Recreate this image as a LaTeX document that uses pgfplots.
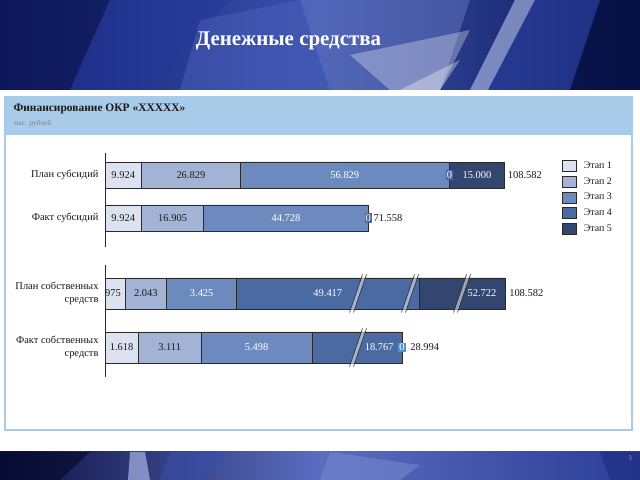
\documentclass[border=0pt]{standalone}
\usepackage{pgfplots}
\pgfplotsset{compat=1.18}
\usepackage{pgfplotstable}
\usepackage{fontspec}
\setmainfont{Liberation Serif}

\definecolor{s1}{HTML}{DCE2F0}
\definecolor{s2}{HTML}{A3B3D5}
\definecolor{s3}{HTML}{6D8ABF}
\definecolor{s4}{HTML}{4B6AA2}
\definecolor{s5}{HTML}{33466F}
\definecolor{hl}{HTML}{4F94D4}
\definecolor{edge}{HTML}{2A2A2A}
\definecolor{panel}{HTML}{A8CBEA}
\definecolor{txt}{HTML}{1A1A1A}
% background tones
\definecolor{bgA}{HTML}{101E6E}
\definecolor{bgB}{HTML}{3A52AE}
\definecolor{bgC}{HTML}{0C1656}
\definecolor{bgD}{HTML}{0A1248}
\definecolor{bgE}{HTML}{24379A}
\definecolor{bgF}{HTML}{4A60BA}
\definecolor{bgG}{HTML}{6F80C6}
\definecolor{bgH}{HTML}{B8C4EC}
\definecolor{bgI}{HTML}{2A3F9E}
\definecolor{bgJ}{HTML}{060E3E}
\definecolor{ftA}{HTML}{0B1040}
\definecolor{ftB}{HTML}{5A6DC0}
\definecolor{ftC}{HTML}{2B3D95}
\definecolor{ftD}{HTML}{04082A}
\definecolor{ftE}{HTML}{A7B3E3}
\definecolor{ftF}{HTML}{3A4FAE}
\definecolor{ftG}{HTML}{7D8DD0}
\definecolor{ftH}{HTML}{1E2C80}
\definecolor{pgnum}{HTML}{8C9BC8}

% upper chart: real values (lengths are to scale)
% y = row position, len = drawn length, lab = label, off = label shift (px),
% fo = label box shown, hl = highlight box colour (0/100), to = label shown
% (a zero segment is stored as 0.0001 so that its "0" label is still drawn)
\pgfplotstableread{
y   len    lab     off fo hl to
175 9.924  9.924   0   0  0  1
218 9.924  9.924   0   0  0  1
}\upa
\pgfplotstableread{
y   len    lab     off fo hl to
175 26.829 26.829  0   0  0  1
218 16.905 16.905  0   0  0  1
}\upb
\pgfplotstableread{
y   len    lab     off fo hl to
175 56.829 56.829  0   0  0  1
218 44.728 44.728  0   0  0  1
}\upc
\pgfplotstableread{
y   len    lab     off fo hl to
175 0.0001 0       0   1  0  1
218 0.0001 0       0   1  0  1
}\upd
\pgfplotstableread{
y   len    lab     off fo hl to
175 15.000 15.000  0   0  0  1
218 0      0       0   0  0  0
}\upe
\pgfplotstableread{
y   len    lab     off
175 0.0001 108.582 3
218 0.0001 71.558  5
}\uptot

% lower chart: broken bars, len = drawn length as seen, lab = true value
\pgfplotstableread{
y     len    lab     off fo hl to
293.5 5.43   975     -2  0  0  1
347.5 9.05   1.618   0   0  0  1
}\loa
\pgfplotstableread{
y     len    lab     off fo hl to
293.5 11.33  2.043   0   0  0  1
347.5 17.04  3.111   0   0  0  1
}\lob
\pgfplotstableread{
y     len    lab     off fo hl to
293.5 19.02  3.425   0   0  0  1
347.5 30.24  5.498   0   0  0  1
}\loc
\pgfplotstableread{
y     len    lab     off fo hl to
293.5 49.54  49.417  0   0  0  1
347.5 24.38  18.767  22  0  0  1
}\lod
\pgfplotstableread{
y     len    lab     off fo hl  to
293.5 23.37  52.722  20  0  0   1
347.5 0.0001 0       0   1  100 1
}\loe
\pgfplotstableread{
y     len    lab     off
293.5 0.0001 108.582 4
347.5 0.0001 28.994  8
}\lotot

\pgfplotsset{
  chartbase/.style={
    xbar stacked, scale only axis,
    x=3.68bp, y=1bp, y dir=reverse,
    xmin=0, xmax=140, clip=false,
    axis x line=none, axis y line*=left,
    y axis line style={draw=edge, line width=0.6bp},
    major tick length=0, ytick style={draw=none},
    yticklabel style={font=\fontsize{10.5}{13.5}\selectfont, align=right,
      text=txt, xshift=-3bp},
    every axis plot/.append style={draw=edge, line width=0.6bp},
  },
  % segment labels sit in the middle of their segment
  seg/.style 2 args={
    fill=#1,
    point meta=explicit symbolic,
    visualization depends on={\thisrow{off} \as \segoff},
    visualization depends on={\thisrow{fo} \as \segfo},
    visualization depends on={\thisrow{hl} \as \seghl},
    visualization depends on={\thisrow{to} \as \segto},
    nodes near coords,
    every node near coord/.append style={anchor=center,
      xshift={\segoff*1bp}, fill=hl!\seghl!s4,
      fill opacity=\segfo, text opacity=\segto, text=#2,
      inner sep=1bp, font=\fontsize{10.5}{12}\selectfont},
  },
  tot/.style={
    draw=none, fill=none,
    point meta=explicit symbolic,
    visualization depends on={\thisrow{off} \as \segoff},
    nodes near coords,
    every node near coord/.append style={anchor=west,
      xshift={\segoff*1bp}, text=txt, inner sep=0bp,
      font=\fontsize{10.5}{12}\selectfont},
  },
}

\newcommand\brk[2]{%
  \begin{scope}[shift={(#1bp,480bp-#2bp)}]
    \fill[white, opacity=0.5] (-8.5bp,-19bp) -- (4.5bp,19bp) -- (8.5bp,19bp) -- (-4.5bp,-19bp) -- cycle;
    \draw[edge, line width=0.6bp] (-8.5bp,-19bp) -- (4.5bp,19bp) (-4.5bp,-19bp) -- (8.5bp,19bp);
  \end{scope}}

\begin{document}
\begin{tikzpicture}
\path[use as bounding box] (0,0) rectangle (640bp,480bp);
\fill[white] (0,0) rectangle (640bp,480bp);

% slide background, drawn in pixel coordinates
\begin{scope}[x=1bp, y=-1bp, shift={(0bp,480bp)}]
  \shade[left color=bgA, right color=bgC, middle color=bgB] (0,0) rectangle (640,90);
  \fill[bgD, opacity=0.55] (0,0) -- (110,0) -- (70,90) -- (0,90) -- cycle;
  \fill[bgE, opacity=0.5] (110,0) -- (230,0) -- (150,90) -- (70,90) -- cycle;
  \fill[bgF, opacity=0.5] (200,20) -- (300,0) -- (330,90) -- (180,90) -- cycle;
  \fill[bgG, opacity=0.45] (300,0) -- (470,0) -- (440,90) -- (330,90) -- cycle;
  \fill[white, opacity=0.3] (350,55) -- (470,30) -- (440,90) -- (390,90) -- cycle;
  \fill[white, opacity=0.35] (400,90) -- (460,60) -- (440,90) -- cycle;
  \fill[bgH, opacity=0.6] (470,90) -- (515,0) -- (535,0) -- (488,90) -- cycle;
  \fill[bgI, opacity=0.6] (488,90) -- (535,0) -- (600,0) -- (570,90) -- cycle;
  \fill[bgJ, opacity=0.7] (570,90) -- (600,0) -- (640,0) -- (640,90) -- cycle;

  \shade[left color=ftA, right color=ftC, middle color=ftB] (0,452) rectangle (640,480);
  \fill[ftD, opacity=0.6] (0,452) -- (90,452) -- (60,480) -- (0,480) -- cycle;
  \fill[ftE, opacity=0.7] (130,452) -- (145,452) -- (150,480) -- (128,480) -- cycle;
  \fill[ftF, opacity=0.5] (170,452) -- (230,452) -- (200,480) -- (160,480) -- cycle;
  \fill[ftG, opacity=0.5] (330,452) -- (420,465) -- (400,480) -- (320,480) -- cycle;
  \fill[ftH, opacity=0.6] (600,452) -- (640,452) -- (640,480) -- (610,480) -- cycle;

  \node[text=white, font=\bfseries\fontsize{21}{24}\selectfont] at (288.5,41) {Денежные средства};
  \node[text=pgnum, font=\fontsize{7}{8}\selectfont] at (630,458) {3};

  \fill[panel] (5,97) rectangle (632,135);
  \draw[panel, line width=2bp] (5,97) rectangle (632,430);
  \node[anchor=base west, text=txt, font=\bfseries\fontsize{11.5}{13}\selectfont] at (10,112) {Финансирование ОКР «XXXXX»};
  \node[anchor=base west, text=black!50, font=\fontsize{7.5}{9}\selectfont] at (10,126) {тыс. рублей};
\end{scope}

\begin{axis}[chartbase,
  at={(105bp,327bp)}, anchor=north west,
  ymin=153, ymax=247, bar width=26,
  ytick={175,218}, yticklabels={План субсидий,Факт субсидий},
  legend style={at={(0.887,0.93)}, anchor=north west, draw=none, fill=none,
    font=\fontsize{10}{12}\selectfont, row sep=4.3bp, inner sep=0pt,
    nodes={inner sep=1bp, text=txt}},
  legend cell align=left,
  legend image code/.code={\draw[#1, draw=edge, line width=0.6bp] (0bp,-5.5bp) rectangle (14bp,5.5bp);
    \path (20bp,0bp);},
]
\addplot[seg={s1}{txt}] table[x=len, y=y, meta=lab] {\upa};
\addplot[seg={s2}{txt}] table[x=len, y=y, meta=lab] {\upb};
\addplot[seg={s3}{white}] table[x=len, y=y, meta=lab] {\upc};
\addplot[seg={s4}{white}] table[x=len, y=y, meta=lab] {\upd};
\addplot[seg={s5}{white}] table[x=len, y=y, meta=lab] {\upe};
\addplot[tot] table[x=len, y=y, meta=lab] {\uptot};
\legend{Этап 1, Этап 2, Этап 3, Этап 4, Этап 5}
\end{axis}

\begin{axis}[chartbase,
  at={(105bp,215bp)}, anchor=north west,
  ymin=265, ymax=377, bar width=31,
  ytick={293.5,347.5},
  yticklabels={{План собственных\\средств},{Факт собственных\\средств}},
]
\addplot[seg={s1}{txt}] table[x=len, y=y, meta=lab] {\loa};
\addplot[seg={s2}{txt}] table[x=len, y=y, meta=lab] {\lob};
\addplot[seg={s3}{white}] table[x=len, y=y, meta=lab] {\loc};
\addplot[seg={s4}{white}] table[x=len, y=y, meta=lab] {\lod};
\addplot[seg={s5}{white}] table[x=len, y=y, meta=lab] {\loe};
\addplot[tot] table[x=len, y=y, meta=lab] {\lotot};
\end{axis}

% break marks on the shortened bars
\brk{358}{293.5}
\brk{410}{293.5}
\brk{462}{293.5}
\brk{358}{347.5}
\end{tikzpicture}
\end{document}
